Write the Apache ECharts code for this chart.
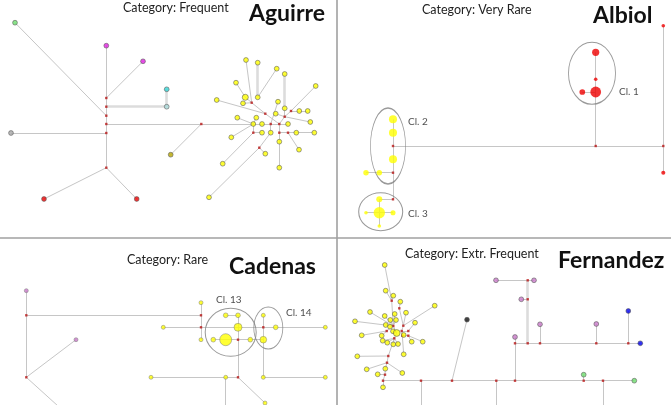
<!DOCTYPE html>
<html><head><meta charset="utf-8">
<script src="https://cdn.jsdelivr.net/npm/echarts@6/dist/echarts.min.js"></script>
<style>html,body{margin:0;padding:0;background:#fff}#c{width:671px;height:405px}</style>
</head><body><div id="c"></div>
<script>
// ---------- text ----------
const panelNames = ['Aguirre', 'Albiol', 'Cadenas', 'Fernandez'];
const panelCategories = ['Category: Frequent', 'Category: Very Rare', 'Category: Rare', 'Category: Extr. Frequent'];

// ---------- Aguirre ----------
const aguirreNodes = [
  [15,22.7,1,'G'],[106.3,45.7,1,'M'],[143,61.3,1,'M'],[166.7,89.3,1,'C'],[166.7,106.7,1,'Cp'],
  [11,133,1,'S'],[44,199,1,'R'],[136.7,199,1,'R'],[170.7,154.7,1,'O'],
  [246,60,1,'Y'],[257.7,62.7,1,'Y'],[276.7,68.7,1,'Y'],[284.7,74,1,'Y'],[236,82.7,1,'Y'],[315.7,86,1,'Y'],
  [245.3,97.3,1.6,'Y'],[257.7,97.3,1,'Y'],[243,103.3,1,'Y'],[216.7,100,1,'Y'],[278,101.7,1,'Y'],
  [284.7,108.3,1,'Y'],[299.3,111,1,'Y'],[307.7,111,1,'Y'],[275.7,113.7,1,'Y'],[237.3,117.7,1,'Y'],
  [256.3,117.7,1,'Y'],[310.3,122,1,'Y'],[253.3,124,1,'Y'],[262,124,1,'Y'],[288,124,1,'Y'],
  [231.3,137.3,1,'Y'],[262,132.7,1,'Y'],[270.7,132.7,1,'Y'],[296.3,132.7,1,'Y'],[314.3,132.7,1,'Y'],
  [279.3,141.7,1,'Y'],[299,149.7,1,'Y'],[265.3,153.7,1,'Y'],[222.7,163.7,1,'Y'],[279.3,167.7,1,'Y'],
  [209,197.3,1,'Y']
];
const aguirreJunctions = [
  [106.3,98],[106.3,106.7],[106.3,115.7],[106.3,124],[106.3,133],[106.3,167.7],[201.3,124],
  [251.7,102.7],[265.3,113.7],[291,111],[284.7,116.7],[270.7,124],[279.3,124],[253.3,132.7],
  [279.3,132.7],[288,132.7],[259.3,147.7]
];
const aguirreEdges = [
  [106.3,45.7,106.3,167.7],[15,22.7,106.3,115.7],[143,61.3,106.3,98],[11,133,106.3,133],
  [106.3,124,253.3,124],[201.3,124,170.7,154.7],[106.3,167.7,44,199],[106.3,167.7,136.7,199],
  [246,60,251.7,102.7],[276.7,68.7,257.7,97.3],[236,82.7,245.3,97.3],[315.7,86,291,111],
  [291,111,307.7,111],[291,111,284.7,116.7],[245.3,97.3,251.7,102.7],[243,103.3,251.7,102.7],
  [251.7,102.7,265.3,113.7],[216.7,100,265.3,113.7],[265.3,113.7,279.3,124],[278,101.7,270.7,124],
  [284.7,108.3,284.7,116.7],[284.7,116.7,279.3,124],[284.7,116.7,310.3,122],[275.7,113.7,284.7,116.7],
  [237.3,117.7,253.3,124],[256.3,117.7,253.3,124],[253.3,124,288,124],[253.3,124,253.3,132.7],
  [253.3,132.7,262,132.7],[270.7,124,270.7,132.7],[279.3,124,279.3,167.7],[279.3,132.7,314.3,132.7],
  [288,132.7,299,149.7],[231.3,137.3,253.3,124],[222.7,163.7,253.3,132.7],[209,197.3,259.3,147.7],
  [259.3,147.7,270.7,132.7],[259.3,147.7,265.3,153.7]
];
const aguirreThickEdges = [
  [106.3,106.7,166.7,106.7],[166.7,106.7,166.7,89.3],[257.7,62.7,257.7,97.3],[284.7,74,284.7,108.3]
];

// ---------- Albiol ----------
const albiolNodes = [
  [663.3,25.7,1,'R'],[595.7,52.3,4,'R'],[595.7,79.3,1,'R'],[582.3,92,2.5,'R'],[595.7,92,9,'R'],[663.3,172.7,1.3,'R'],
  [393,119.3,5,'Y'],[393,132.7,5,'Y'],[393,159.3,5,'Y'],[379.3,172.7,2.3,'Y'],[366,172.7,2.3,'Y'],
  [379.3,199.3,2.8,'Y'],[379.3,212.7,10,'Y'],[366,212.7,1,'Y'],[393,212.7,2,'Y'],[379.3,226,1,'Y']
];
const albiolJunctions = [[595.7,146],[663.3,146],[393,146],[393,172.7],[393,199.3]];
const albiolEdges = [
  [663.3,25.7,663.3,172.7],[393,146,663.3,146],[595.7,146,595.7,52.3],[582.3,92,595.7,92],
  [393,119.3,393,199.3],[366,172.7,393,172.7],[379.3,199.3,393,199.3],[366,212.7,393,212.7],
  [379.3,199.3,379.3,226]
];
const albiolThickEdges = [];
const albiolClusters = [['Cl. 1',592,73.3,47,62],['Cl. 2',388,146,35,76],['Cl. 3',380.7,211.7,44,38]];
const albiolClusterLabels = [['Cl. 1',619,91.7],['Cl. 2',408,121.7],['Cl. 3',408,214]];

// ---------- Cadenas ----------
const cadenasNodes = [
  [26.3,290.7,1,'V'],[76,339.7,1,'V'],
  [201,302.7,1,'Y'],[225.7,315.3,1.4,'Y'],[238,315.3,1.4,'Y'],[163.3,327.3,1,'Y'],[238,327.3,4,'Y'],
  [275.7,327.3,1.4,'Y'],[325.3,327.3,1,'Y'],[263.3,315.3,1,'Y'],[201,339.7,1,'Y'],[213.3,339.7,1.4,'Y'],
  [225.7,339.7,9,'Y'],[250.3,339.7,1.4,'Y'],[263.3,339.7,2.8,'Y'],[263.3,377.3,1,'Y'],[325.3,377.3,1,'Y'],
  [151,377.3,1,'Y'],[225.7,377.3,1,'Y'],[265,403,1,'Y']
];
const cadenasJunctions = [[26.3,315.3],[26.3,377.3],[201,315.3],[201,327.3],[263.3,327.3],[238,339.7],[238,377.3]];
const cadenasEdges = [
  [26.3,290.7,26.3,377.3],[26.3,377.3,58,406],[26.3,315.3,201,315.3],[26.3,377.3,76,339.7],
  [201,302.7,201,339.7],[225.7,315.3,238,315.3],[163.3,327.3,325.3,327.3],[263.3,315.3,263.3,377.3],
  [213.3,339.7,263.3,339.7],[238,315.3,238,377.3],[263.3,377.3,325.3,377.3],[151,377.3,238,377.3],
  [225.7,377.3,225.7,406],[238,377.3,265,403]
];
const cadenasThickEdges = [];
const cadenasClusters = [['Cl. 13',230.7,332.3,51,48],['Cl. 14',268.3,328,29,42]];
const cadenasClusterLabels = [['Cl. 13',216,299.3],['Cl. 14',286,313]];

// ---------- Fernandez ----------
const fernandezNodes = [
  [467,319.7,1,'K'],[496,280.3,1,'V'],[534,280.3,1,'V'],[521.3,299.3,1,'V'],[540,324.3,1,'V'],
  [596.3,324,1,'V'],[515,337,1,'V'],[628.3,311,1,'B'],[640.3,343.3,1,'B'],[583.7,374.7,1,'G'],[634.3,380.7,1,'G'],
  [384.7,265,1,'Y'],[385.7,290.7,1,'Y'],[393.3,295.7,1,'Y'],[400.3,301.7,1,'Y'],[434.7,305.7,1,'Y'],
  [370,312,1,'Y'],[406,312.7,1,'Y'],[384.7,316,1,'Y'],[394.7,314,1,'Y'],[390.3,320,1,'Y'],[396,320,1,'Y'],
  [355,321.3,1,'Y'],[415,322.7,1,'Y'],[385.7,325,1,'Y'],[390,326.7,1,'Y'],[393,331.3,1,'Y'],
  [396.7,333,2,'Y'],[361.7,335.3,1,'Y'],[381.7,335.7,1,'Y'],[403.7,335,1,'Y'],[411.7,341.7,1,'Y'],
  [422.7,341.7,1,'Y'],[382.7,340.7,1,'Y'],[387.3,342.7,1,'Y'],[393.3,344.3,1,'Y'],[398,344,1,'Y'],
  [403.7,354.3,1,'Y'],[357.3,356.3,1,'Y'],[366.7,369.3,1,'Y'],[385.3,368.7,1,'Y'],[402.3,373,1,'Y'],
  [377.7,374.3,1,'Y'],[383,387.3,1,'Y']
];
const fernandezJunctions = [
  [391.7,300.7],[399.3,308.3],[393.3,326],[403.3,325.7],[386.7,331],[401.7,331],[408.3,331],
  [402.3,335.7],[408.3,335.7],[394.3,338.3],[388.3,356],[387,362.7],[385,374.7],
  [383,380.7],[421,380.7],[452,380.7],[496.3,380.7],[515,380.7],[583.7,380.7],[603,380.7],
  [515,343.3],[527.7,343.3],[540,343.3],[596.3,343.3],[628.3,343.3],[527.7,280.3],[527.7,299.3]
];
const fernandezEdges = [
  [384.7,265,391.7,300.7],[385.7,290.7,391.7,300.7],[393.3,295.7,391.7,300.7],[391.7,300.7,393.3,326],
  [400.3,301.7,399.3,308.3],[399.3,308.3,403.3,325.7],[406,312.7,403.3,325.7],[434.7,305.7,403.3,325.7],
  [370,312,393.3,326],[355,321.3,393.3,326],[384.7,316,393.3,326],[394.7,314,393.3,326],
  [390.3,320,393.3,326],[396,320,393.3,326],[385.7,325,393.3,326],[390,326.7,393.3,326],
  [393.3,326,396.7,333],[403.3,325.7,401.7,331],[401.7,331,408.3,331],[415,322.7,408.3,331],
  [401.7,331,402.3,335.7],[402.3,335.7,408.3,335.7],[408.3,335.7,411.7,341.7],[408.3,335.7,422.7,341.7],
  [402.3,335.7,403.7,354.3],[361.7,335.3,386.7,331],[381.7,335.7,386.7,331],[386.7,331,393.3,326],
  [396.7,333,394.3,338.3],[382.7,340.7,394.3,338.3],[387.3,342.7,394.3,338.3],[393.3,344.3,394.3,338.3],
  [398,344,394.3,338.3],[394.3,338.3,388.3,356],[357.3,356.3,388.3,356],[388.3,356,387,362.7],
  [366.7,369.3,387,362.7],[387,362.7,385.3,368.7],[402.3,373,387,362.7],[385.3,368.7,385,374.7],
  [377.7,374.3,385,374.7],[385,374.7,383,380.7],[383,380.7,383,387.3],
  [383,380.7,634.3,380.7],[421,380.7,421,406],[496.3,380.7,496.3,406],[603,380.7,603,406],
  [452,380.7,467,319.7],[583.7,374.7,583.7,380.7],[515,380.7,515,337],[515,343.3,640.3,343.3],
  [496,280.3,534,280.3],[521.3,299.3,527.7,299.3],[540,324.3,540,343.3],[596.3,324,596.3,343.3],
  [628.3,311,628.3,343.3]
];
const fernandezThickEdges = [[527.7,343.3,527.7,280.3]];

// ---------- panel separators (data space) ----------
const dividers = [[337,0,337,405],[0,238,671,238]];

// ---------- styling ----------
const groupColor = {Y:'#ffff00', R:'#ee0000', M:'#e020e0', C:'#33d6d6', Cp:'#a8d8d8', G:'#6ddd6d',
  S:'#a8a8a8', O:'#b8a800', V:'#c878c8', B:'#0000ee', K:'#111111'};
const FONT = 'Lato, "Open Sans", sans-serif';

const panels = [
  {nodes: aguirreNodes, junctions: aguirreJunctions, edges: aguirreEdges, thick: aguirreThickEdges, clusters: [], labels: [], base: 4.8, border: '#555', bw: 0.7},
  {nodes: albiolNodes, junctions: albiolJunctions, edges: albiolEdges, thick: albiolThickEdges, clusters: albiolClusters, labels: albiolClusterLabels, base: 3.6, border: 'rgba(0,0,0,0)', bw: 0},
  {nodes: cadenasNodes, junctions: cadenasJunctions, edges: cadenasEdges, thick: cadenasThickEdges, clusters: cadenasClusters, labels: cadenasClusterLabels, base: 4, border: '#777', bw: 0.6},
  {nodes: fernandezNodes, junctions: fernandezJunctions, edges: fernandezEdges, thick: fernandezThickEdges, clusters: [], labels: [], base: 4.8, border: '#555', bw: 0.7}
];

const toLines = arr => arr.map(e => ({coords: [[e[0], e[1]], [e[2], e[3]]]}));
const series = [];
series.push({type:'lines', coordinateSystem:'cartesian2d', data: toLines(dividers), silent:true, z:0,
  lineStyle:{color:'#a0a0a0', width:1.6, opacity:1}});
panels.forEach(p => {
  series.push({type:'lines', coordinateSystem:'cartesian2d', data: toLines(p.thick), silent:true, z:1,
    lineStyle:{color:'#dcdcdc', width:2.6, opacity:1}});
  series.push({type:'lines', coordinateSystem:'cartesian2d', data: toLines(p.edges), silent:true, z:2,
    lineStyle:{color:'#c6c6c6', width:1, opacity:1}});
  series.push({type:'scatter', data: p.clusters.map(c => ({name:c[0], value:[c[1], c[2]], symbolSize:[c[3], c[4]]})),
    silent:true, z:2, itemStyle:{color:'rgba(0,0,0,0)', borderColor:'#808080', borderWidth:1}});
  series.push({type:'scatter', data: p.junctions, symbol:'rect', symbolSize:2.4, silent:true, z:4,
    itemStyle:{color:'#b81414'}});
  series.push({type:'scatter', silent:true, z:5,
    data: p.nodes.map(n => ({value:[n[0], n[1], n[2]], itemStyle:{color: groupColor[n[3]]}})),
    symbolSize: v => p.base * Math.sqrt(v[2]),
    itemStyle:{borderColor: p.border, borderWidth: p.bw}});
  series.push({type:'scatter', silent:true, z:6, symbolSize:0,
    data: p.labels.map(l => ({name:l[0], value:[l[1], l[2]]})),
    label:{show:true, formatter:'{b}', position:'right', distance:0, fontSize:10, color:'#222', fontFamily:FONT}});
});

const titlePos = [
  {cat:[123,1], name:[249,2]},
  {cat:[422,3], name:[593,4]},
  {cat:[127,253], name:[229,255]},
  {cat:[405,247], name:[558,249]}
];
const titles = [];
panelNames.forEach((n, i) => {
  titles.push({text: panelCategories[i], left: titlePos[i].cat[0], top: titlePos[i].cat[1], padding:0,
    textStyle:{fontSize:12.5, fontWeight:'normal', color:'#222', fontFamily:FONT}});
  titles.push({text: n, left: titlePos[i].name[0], top: titlePos[i].name[1], padding:0,
    textStyle:{fontSize:23, fontWeight:'bold', color:'#111', fontFamily:FONT}});
});

const chart = echarts.init(document.getElementById('c'));
chart.setOption({
  animation:false,
  backgroundColor:'#fff',
  title: titles,
  grid:{left:0, right:0, top:0, bottom:0},
  xAxis:{type:'value', min:0, max:671, show:false},
  yAxis:{type:'value', min:0, max:405, inverse:true, show:false},
  series: series
});
</script>
</body></html>
